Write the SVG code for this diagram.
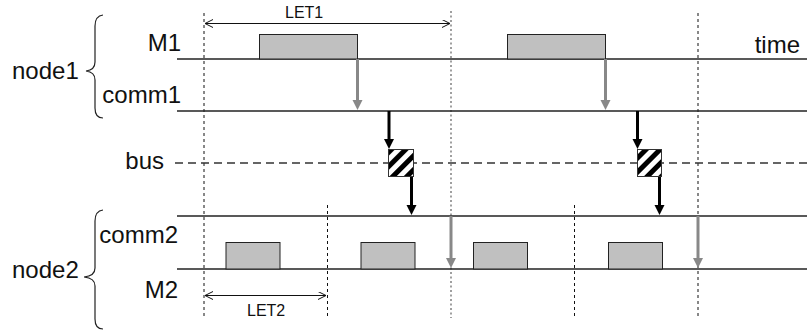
<svg xmlns="http://www.w3.org/2000/svg" width="807" height="331" viewBox="0 0 807 331">
  <style>
    .lbl { font-family: "Liberation Sans", Arial, Helvetica, sans-serif; font-size: 24px; fill: #111; }
    .let { font-family: "Liberation Sans", Arial, Helvetica, sans-serif; font-size: 16px; fill: #111; }
    .track { stroke: #222; stroke-width: 1.3; fill: none; }
    .bus { stroke: #333; stroke-width: 1.3; stroke-dasharray: 8 5; fill: none; }
    .period { stroke: #111; stroke-width: 1; stroke-dasharray: 3 3; fill: none; }
    .deadline { stroke: #777; stroke-width: 1.4; stroke-dasharray: 2 2.5; fill: none; }
    .task { fill: #c0c0c0; stroke: #222; stroke-width: 1; }
    .frame { fill: url(#hatch); stroke: #333; stroke-width: 1; }
    .brace { stroke: #222; stroke-width: 1.2; fill: none; }
    .gray { stroke: #888; stroke-width: 3; fill: none; marker-end: url(#headGray); }
    .black { stroke: #000; stroke-width: 3; fill: none; marker-end: url(#headBlack); }
    .span { stroke: #111; stroke-width: 1; fill: none; marker-start: url(#headOpen); marker-end: url(#headOpen); }
  </style>
  <defs>
    <marker id="headGray" markerUnits="userSpaceOnUse" markerWidth="11" markerHeight="11" refX="1" refY="5" orient="auto">
      <path d="M0,0 L10,5 L0,10 Z" fill="#888"/>
    </marker>
    <marker id="headBlack" markerUnits="userSpaceOnUse" markerWidth="11" markerHeight="11" refX="1" refY="5" orient="auto">
      <path d="M0,0 L10,5 L0,10 Z" fill="#000"/>
    </marker>
    <marker id="headOpen" markerUnits="userSpaceOnUse" markerWidth="10" markerHeight="10" refX="8" refY="4" orient="auto-start-reverse">
      <path d="M0,0 L8,4 L0,8" fill="none" stroke="#111" stroke-width="1"/>
    </marker>
    <pattern id="hatch" patternUnits="userSpaceOnUse" width="10" height="10" patternTransform="rotate(45)">
      <rect width="10" height="10" fill="#fff"/>
      <rect width="5" height="10" fill="#000"/>
    </pattern>
  </defs>

  <!-- period boundaries -->
  <g id="periods">
    <line class="period" x1="204" y1="13" x2="204" y2="318"/>
    <line class="deadline" x1="451" y1="11" x2="451" y2="318"/>
    <line class="period" x1="698" y1="13" x2="698" y2="318"/>
    <line class="period" x1="327.5" y1="205" x2="327.5" y2="318"/>
    <line class="period" x1="574.5" y1="205" x2="574.5" y2="318"/>
  </g>

  <!-- time lines -->
  <g id="tracks">
    <line class="track" x1="177" y1="59" x2="807" y2="59"/>
    <line class="track" x1="177" y1="111" x2="807" y2="111"/>
    <line class="bus" x1="175" y1="163" x2="807" y2="163"/>
    <line class="track" x1="177" y1="216" x2="807" y2="216"/>
    <line class="track" x1="177" y1="269" x2="807" y2="269"/>
  </g>

  <g id="node1">
    <text class="lbl" x="12" y="79">node1</text>
    <path class="brace" d="M103,15 Q95,16 95,26 L95,62 Q95,70 86,71 Q95,72 95,80 L95,108 Q95,118 103,118"/>
    <text class="lbl" x="181" y="51" text-anchor="end">M1</text>
    <text class="lbl" x="181" y="103" text-anchor="end">comm1</text>
    <text class="lbl" x="800" y="53" text-anchor="end">time</text>
    <rect id="m1-job1" class="task" x="259.5" y="34.5" width="98" height="24.5"/>
    <rect id="m1-job2" class="task" x="507.5" y="34.5" width="98" height="24.5"/>
  </g>

  <g id="bus">
    <text class="lbl" x="164" y="169" text-anchor="end">bus</text>
    <rect id="frame1" class="frame" x="388.5" y="149.5" width="25" height="27"/>
    <rect id="frame2" class="frame" x="637.5" y="149.5" width="24" height="27"/>
  </g>

  <g id="node2">
    <text class="lbl" x="12" y="278">node2</text>
    <path class="brace" d="M103,210 Q95,211 95,221 L95,268 Q95,276 84,277 Q95,278 95,286 L95,319 Q95,329 103,329"/>
    <text class="lbl" x="178" y="243" text-anchor="end">comm2</text>
    <text class="lbl" x="178" y="298" text-anchor="end">M2</text>
    <rect id="m2-job1" class="task" x="226" y="242.5" width="54" height="26.5"/>
    <rect id="m2-job2" class="task" x="361" y="242.5" width="54" height="26.5"/>
    <rect id="m2-job3" class="task" x="473.5" y="242.5" width="54" height="26.5"/>
    <rect id="m2-job4" class="task" x="608.5" y="242.5" width="54" height="26.5"/>
  </g>

  <g id="connectors">
    <!-- output written to the communication layer -->
    <line class="gray" x1="357.5" y1="59" x2="357.5" y2="101"/>
    <line class="gray" x1="605.5" y1="59" x2="605.5" y2="101"/>
    <!-- comm1 to bus frame -->
    <line class="black" x1="389" y1="111" x2="389" y2="140"/>
    <line class="black" x1="637.5" y1="111" x2="637.5" y2="140"/>
    <!-- bus frame to comm2 -->
    <line class="black" x1="411.5" y1="177" x2="411.5" y2="206"/>
    <line class="black" x1="659.5" y1="177" x2="659.5" y2="206"/>
    <!-- comm2 delivered to M2 -->
    <line class="gray" x1="451" y1="216" x2="451" y2="259"/>
    <line class="gray" x1="698" y1="216" x2="698" y2="259"/>
    <!-- logical execution times -->
    <line class="span" x1="205" y1="23.5" x2="450" y2="23.5"/>
    <line class="span" x1="205" y1="295.5" x2="326" y2="295.5"/>
  </g>

  <g id="let-labels">
    <text class="let" x="285" y="18">LET1</text>
    <text class="let" x="247" y="316">LET2</text>
  </g>
</svg>
